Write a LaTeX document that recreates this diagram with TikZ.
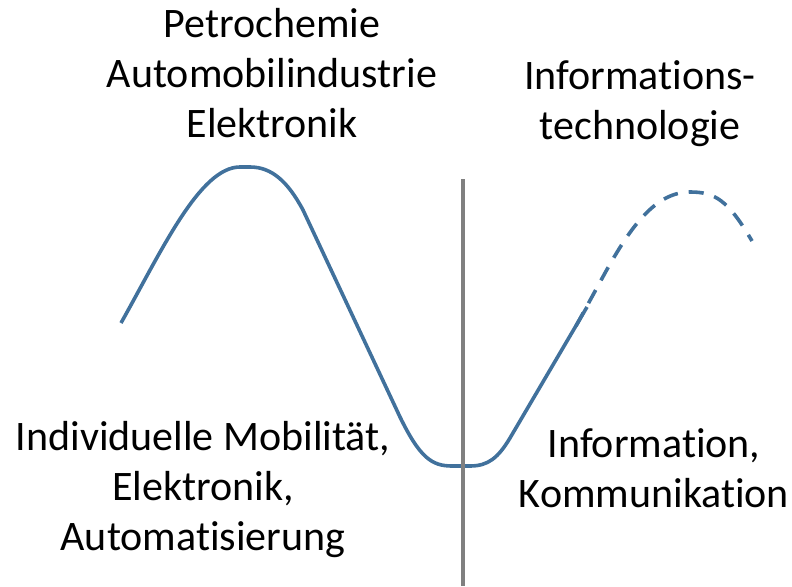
\documentclass[tikz,border=0pt]{standalone}
\usepackage{fontspec}
\setmainfont{Carlito}[Ligatures=NoCommon]
\begin{document}
\begin{tikzpicture}[x=1pt,y=-1pt,
  curve/.style={draw=curveblue,line width=3.6pt},
  lbl/.style={align=center,inner sep=0pt,font=\fontsize{42}{50}\selectfont,anchor=base}]
\definecolor{curveblue}{HTML}{41719C}
\definecolor{axisgray}{HTML}{808080}
\useasboundingbox (0,0) rectangle (792,586);
% solid curve
\draw[curve,line cap=butt,line join=round] (121,323) .. controls (162,250) and (200,167) .. (240,167)
  -- (250,167) .. controls (272,167) and (288,182) .. (303,210)
  -- (400,417) .. controls (420,458) and (432,466) .. (452,466)
  -- (470,466) .. controls (488,466) and (498,458) .. (510,438)
  -- (587,307);
% dashed continuation
\draw[curve,dash pattern=on 15pt off 11pt,line cap=butt] (576,326) -- (605,273)
  .. controls (630,228) and (655,192) .. (690,192)
  .. controls (715,192) and (728,200) .. (752,241);
% vertical divider
\coordinate (vtop) at (463,179);
\coordinate (vbot) at (463,586);
\draw[draw=axisgray,line width=4pt] (vtop) -- (vbot);
% labels
\node[lbl] (tl) at (272,137) {Petrochemie\\Automobilindustrie\\Elektronik};
\node[lbl] (tr) at (640,139) {Informations-\\technologie};
\node[lbl] (bl) at (203,550) {Individuelle Mobilität,\\Elektronik,\\Automatisierung};
\node[lbl] (br) at (654,507) {Information,\\Kommunikation};
\end{tikzpicture}
\end{document}
